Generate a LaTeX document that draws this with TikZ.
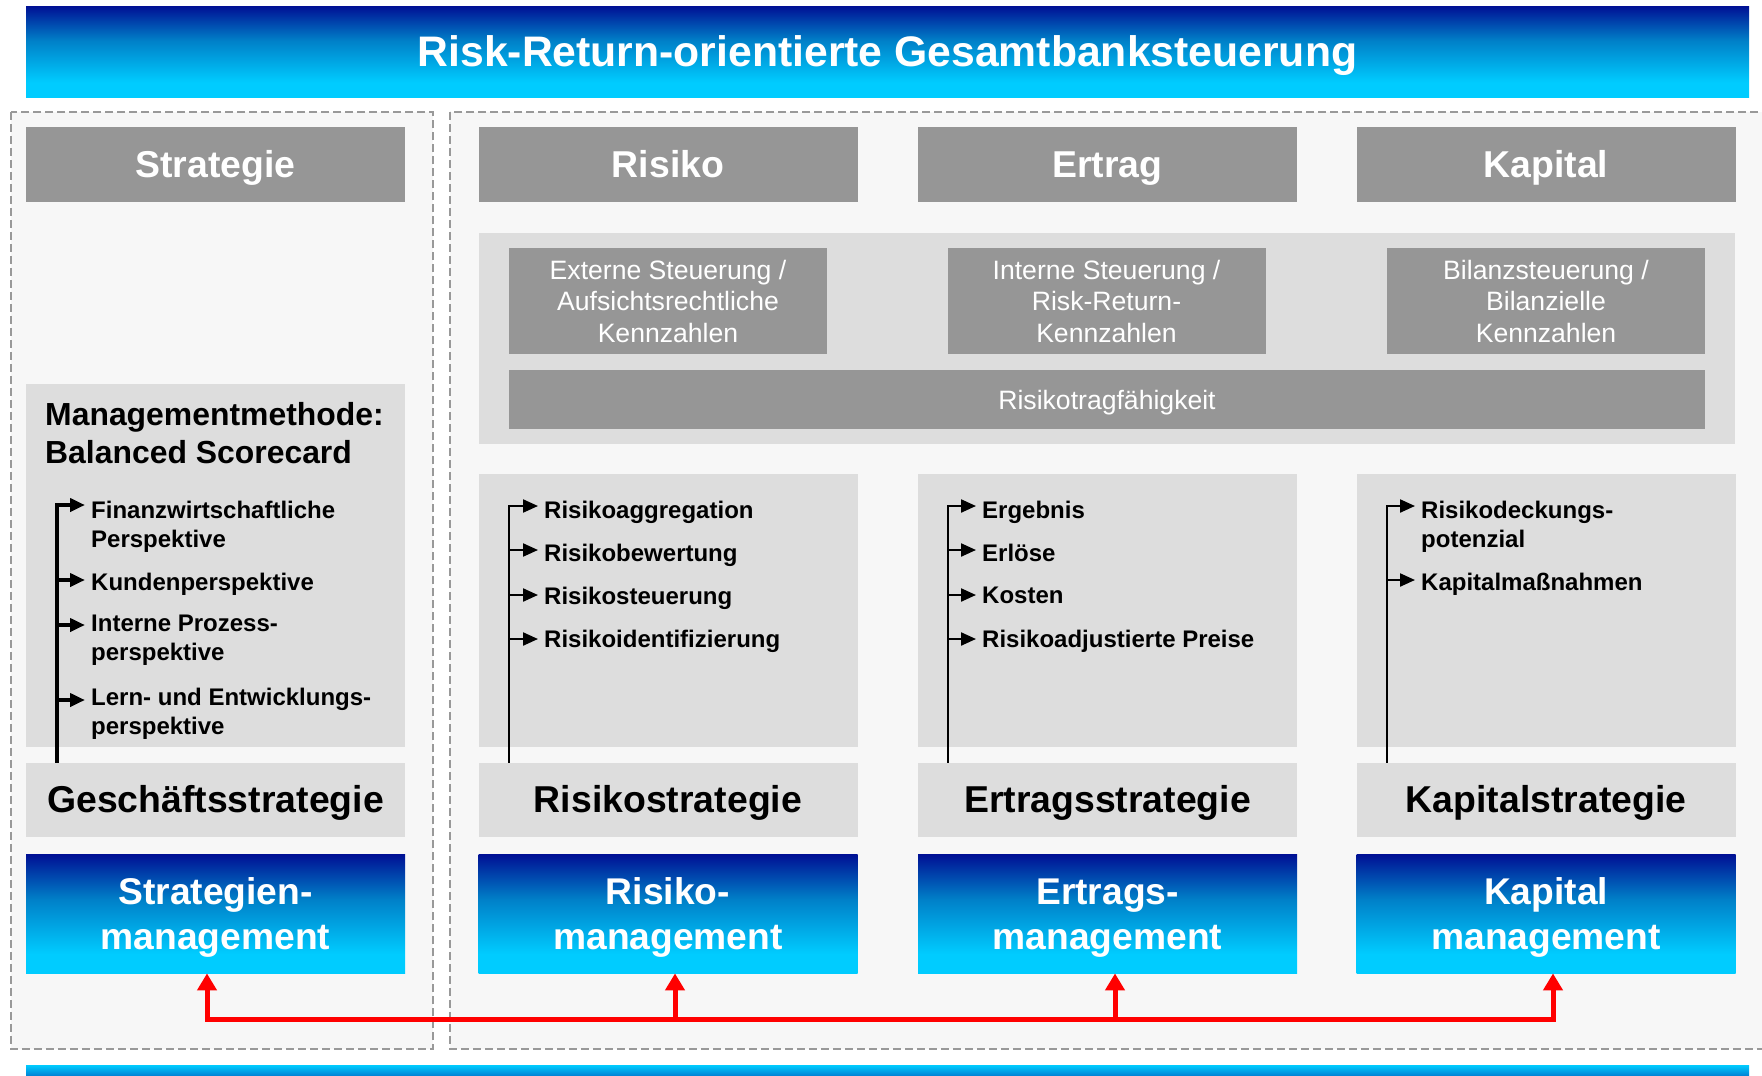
\documentclass[tikz,border=0pt]{standalone}
\usepackage{fontspec}
\setmainfont{Liberation Sans}
\usetikzlibrary{arrows.meta}

\definecolor{headgray}{HTML}{969696}
\definecolor{boxgray}{HTML}{DDDDDD}
\definecolor{panelgray}{HTML}{F7F7F7}
\definecolor{dashgray}{HTML}{999999}
\definecolor{banknavy}{HTML}{001094}
\definecolor{bankmid}{HTML}{0080C8}
\definecolor{bankcyan}{HTML}{00CCFF}
\definecolor{linkred}{HTML}{FF0000}

% blue bars: navy at the top, cyan at the bottom
\pgfdeclareverticalshading{bankblue}{100bp}{color(0bp)=(bankcyan); color(33bp)=(bankcyan); color(56bp)=(bankmid); color(75bp)=(banknavy); color(100bp)=(banknavy)}

\begin{document}
\begin{tikzpicture}[x=1pt,y=-1pt,
    panel/.style={draw=dashgray, fill=panelgray, line width=1.5pt, dash pattern=on 8pt off 4pt},
    bluebar/.style={shading=bankblue, text=white, inner sep=0pt, align=center},
    headbox/.style={fill=headgray, text=white, inner sep=0pt, minimum width=379pt, minimum height=75pt,
        text height=25.6pt, text depth=0pt, font=\fontsize{37.4}{44}\selectfont\bfseries},
    kzbox/.style={fill=headgray, text=white, inner sep=0pt, minimum width=318pt, minimum height=106pt,
        align=center, text height=83.8pt, text depth=0pt, font=\fontsize{26.6}{31.8}\selectfont},
    lightbox/.style={fill=boxgray, inner sep=0pt},
    stratbox/.style={fill=boxgray, inner sep=0pt, minimum width=379pt, minimum height=74pt,
        text height=25.6pt, text depth=0pt, font=\fontsize{37.4}{44}\selectfont\bfseries},
    mgmtbox/.style={bluebar, minimum width=379pt, minimum height=119pt,
        text height=71pt, text depth=0pt, font=\fontsize{37.2}{44.3}\selectfont\bfseries},
    item/.style={anchor=north west, inner sep=0pt, align=left, font=\fontsize{24}{29}\selectfont\bfseries},
    bsline/.style={line width=4pt, -{Triangle[length=15pt,width=13pt]}, shorten >=6pt},
    colline/.style={line width=2.2pt, -{Triangle[length=15pt,width=13pt]}, shorten >=6pt},
    link/.style={draw=linkred, line width=5pt}
  ]

    % Fix the size of the picture
    \useasboundingbox (0,0) rectangle (1762,1076);

    % Title bar and the bar at the bottom
    \node[bluebar, minimum width=1723pt, minimum height=91pt, text height=30.4pt, text depth=0pt,
        font=\fontsize{42.7}{50}\selectfont\bfseries]
        (title) at (887.5,51.5) {Risk-Return-orientierte Gesamtbanksteuerung};
    \fill[top color=bankcyan, bottom color=banknavy] (26,1065) rectangle (1749,1092);

    % Dashed panels (the right one runs past the edge)
    \draw[panel] (11,112) rectangle (433,1049);
    \draw[panel] (450,112) rectangle (1775,1049);

    % Column headers
    \node[headbox] (strat) at (215.5,164.5) {Strategie};
    \node[headbox] (risk)  at (668,164.5)   {Risiko};
    \node[headbox] (ertr)  at (1107.5,164.5) {Ertrag};
    \node[headbox] (kapi)  at (1546,164.5)  {Kapital};

    % Kennzahlen and Risikotragfaehigkeit
    \node[lightbox, minimum width=1256pt, minimum height=211pt] (kzpanel) at (1107,338.5) {};
    \node[kzbox] (extst) at (668,300.8)    {Externe Steuerung /\\Aufsichtsrechtliche\\Kennzahlen};
    \node[kzbox] (intst) at (1106.5,300.8) {Interne Steuerung /\\Risk-Return-\\Kennzahlen};
    \node[kzbox] (bilst) at (1546,300.8)   {Bilanzsteuerung /\\Bilanzielle\\Kennzahlen};
    \node[kzbox, minimum width=1196pt, minimum height=59pt, text height=19.4pt] (rtf) at (1107,399.5)
        {Risikotragfähigkeit};

    % Grey boxes behind the lists
    \node[lightbox, minimum width=379pt, minimum height=363pt] (bsc)   at (215.5,565.5) {};
    \node[lightbox, minimum width=379pt, minimum height=273pt] (rlist) at (668,610.5)   {};
    \node[lightbox, minimum width=379pt, minimum height=273pt] (elist) at (1107.5,610.5) {};
    \node[lightbox, minimum width=379pt, minimum height=273pt] (klist) at (1546,610.5)  {};

    % Strategies
    \node[stratbox] (gs) at (215.5,800)  {Geschäftsstrategie};
    \node[stratbox] (rs) at (668,800)    {Risikostrategie};
    \node[stratbox] (es) at (1107.5,800) {Ertragsstrategie};
    \node[stratbox] (ks) at (1546,800)   {Kapitalstrategie};

    % Management boxes
    \node[mgmtbox] (sm) at (215.5,913.7)  {Strategien-\\management};
    \node[mgmtbox] (rm) at (668,913.7)    {Risiko-\\management};
    \node[mgmtbox] (em) at (1107.5,913.7) {Ertrags-\\management};
    \node[mgmtbox] (km) at (1546,913.7)   {Kapital\\management};

    % Balanced Scorecard
    \node[item, font=\fontsize{31.9}{38}\selectfont\bfseries] (bsctxt) at (45,402)
        {Managementmethode:\\Balanced Scorecard};
    \coordinate (bs1) at (57,505);
    \coordinate (bs2) at (57,580);
    \coordinate (bs3) at (57,625);
    \coordinate (bs4) at (57,700);
    \node[item] (fin) at (91,501)   {Finanzwirtschaftliche\\Perspektive};
    \node[item] (kun) at (91,572.5) {Kundenperspektive};
    \node[item] (ipp) at (91,615)   {Interne Prozess-\\perspektive};
    \node[item] (lep) at (91,687.5) {Lern- und Entwicklungs-\\perspektive};
    \draw[bsline] (gs.north -| bs1) -- (bs1) -- (fin.north west |- bs1);
    \draw[bsline] (bs2) -- (kun.north west |- bs2);
    \draw[bsline] (bs3) -- (ipp.north west |- bs3);
    \draw[bsline] (bs4) -- (lep.north west |- bs4);

    % Risiko list
    \coordinate (ra1) at (509,506);
    \coordinate (ra2) at (509,550);
    \coordinate (ra3) at (509,595);
    \coordinate (ra4) at (509,639);
    \node[item] (ragg) at (544,500.7) {Risikoaggregation};
    \node[item] (rbew) at (544,544)   {Risikobewertung};
    \node[item] (rste) at (544,586.7) {Risikosteuerung};
    \node[item] (ride) at (544,630)   {Risikoidentifizierung};
    \draw[colline] (rs.north -| ra1) -- (ra1) -- (ragg.north west |- ra1);
    \draw[colline] (ra2) -- (rbew.north west |- ra2);
    \draw[colline] (ra3) -- (rste.north west |- ra3);
    \draw[colline] (ra4) -- (ride.north west |- ra4);

    % Ertrag list
    \coordinate (ea1) at (948,506);
    \coordinate (ea2) at (948,550);
    \coordinate (ea3) at (948,595);
    \coordinate (ea4) at (948,639);
    \node[item] (erg)  at (982,500.7) {Ergebnis};
    \node[item] (erl)  at (982,544)   {Erlöse};
    \node[item] (kos)  at (982,586.7) {Kosten};
    \node[item] (rap)  at (982,630)   {Risikoadjustierte Preise};
    \draw[colline] (es.north -| ea1) -- (ea1) -- (erg.north west |- ea1);
    \draw[colline] (ea2) -- (erl.north west |- ea2);
    \draw[colline] (ea3) -- (kos.north west |- ea3);
    \draw[colline] (ea4) -- (rap.north west |- ea4);

    % Kapital list
    \coordinate (ka1) at (1387,506);
    \coordinate (ka2) at (1387,580);
    \node[item] (rdp) at (1421,501)   {Risikodeckungs-\\potenzial};
    \node[item] (kmn) at (1421,572.5) {Kapitalmaßnahmen};
    \draw[colline] (ks.north -| ka1) -- (ka1) -- (rdp.north west |- ka1);
    \draw[colline] (ka2) -- (kmn.north west |- ka2);

    % Red links between the management boxes
    \coordinate (lk1) at (207,1019);
    \coordinate (lk2) at (675,1019);
    \coordinate (lk3) at (1115,1019);
    \coordinate (lk4) at (1553,1019);
    \draw[link, {Triangle[length=17pt,width=19pt]}-{Triangle[length=17pt,width=19pt]}]
        (sm.south -| lk1) -- (lk1) -- (lk4) -- (km.south -| lk4);
    \draw[link, -{Triangle[length=17pt,width=19pt]}] (lk2) -- (rm.south -| lk2);
    \draw[link, -{Triangle[length=17pt,width=19pt]}] (lk3) -- (em.south -| lk3);

\end{tikzpicture}
\end{document}
